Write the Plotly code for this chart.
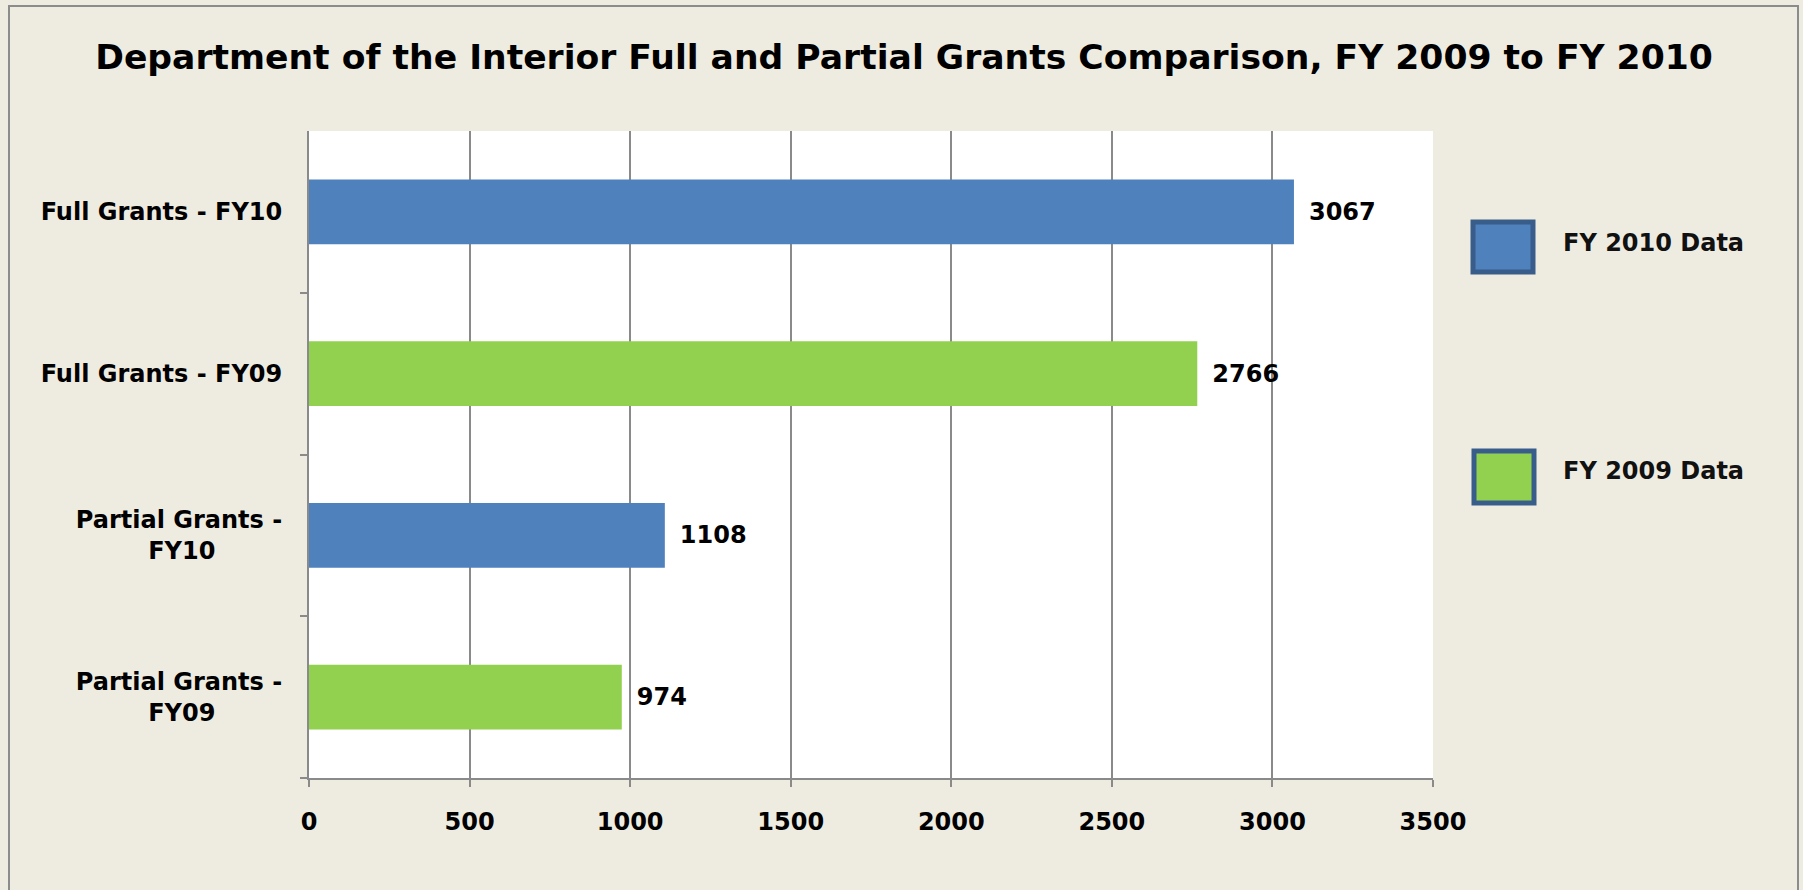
import plotly.graph_objects as go

# ---- data ----
categories_top_to_bottom = ["Full Grants - FY10", "Full Grants - FY09",
                            "Partial Grants - FY10", "Partial Grants - FY09"]
tick_labels = ["Full Grants - FY10", "Full Grants - FY09",
               "Partial Grants -<br>FY10" + "\u00a0" * 8,
               "Partial Grants -<br>FY09" + "\u00a0" * 8]
fy10_categories = ["Full Grants - FY10", "Partial Grants - FY10"]
fy10_values = [3067, 1108]
fy09_categories = ["Full Grants - FY09", "Partial Grants - FY09"]
fy09_values = [2766, 974]
series_names = ["FY 2010 Data", "FY 2009 Data"]
x_ticks = [0, 500, 1000, 1500, 2000, 2500, 3000, 3500]

BLUE = "#4F81BD"
GREEN = "#92D050"
BORDER = "#385D8A"
BG = "#EEECE1"
GRID = "#8A8A8A"
FONT = "DejaVu Sans"

W, H = 1803, 890
L, R, T, B = 309, 1433, 131, 778


def px(x):
    return (x - L) / (R - L)


def py(y):
    return (B - y) / (B - T)


fig = go.Figure()
fig.add_trace(go.Bar(
    y=fy10_categories, x=fy10_values, orientation="h", name=series_names[0],
    marker=dict(color=BLUE, line=dict(width=0)), width=0.4,
    text=fy10_values, texttemplate="\u2002%{x}", textposition="outside",
    constraintext="none", cliponaxis=False,
    textfont=dict(family=FONT, size=24, color="black", weight="bold"),
    showlegend=False))
fig.add_trace(go.Bar(
    y=fy09_categories, x=fy09_values, orientation="h", name=series_names[1],
    marker=dict(color=GREEN, line=dict(width=0)), width=0.4,
    text=fy09_values, texttemplate="\u2002%{x}", textposition="outside",
    constraintext="none", cliponaxis=False,
    textfont=dict(family=FONT, size=24, color="black", weight="bold"),
    showlegend=False))

shapes = []
annotations = []
# custom legend
legend_boxes = [(1473, 222, 1533, 272, BLUE, 243), (1474, 451, 1534, 503, GREEN, 471)]
for (x0, y0, x1, y1, col, ty), name in zip(legend_boxes, series_names):
    shapes.append(dict(type="rect", xref="paper", yref="paper",
                       x0=px(x0), x1=px(x1), y0=py(y0), y1=py(y1),
                       fillcolor=col, line=dict(color=BORDER, width=5)))
    annotations.append(dict(xref="paper", yref="paper", x=px(1561), y=py(ty),
                            xanchor="left", yanchor="middle", showarrow=False,
                            text=name,
                            font=dict(family=FONT, size=24, color="#111", weight="bold")))
# outer chart border
shapes.append(dict(type="rect", xref="paper", yref="paper",
                   x0=px(9), x1=px(1798), y0=py(900), y1=py(6),
                   line=dict(color="#8C8C8C", width=2), fillcolor="rgba(0,0,0,0)"))

fig.update_layout(
    width=W, height=H,
    margin=dict(l=L, r=W - R, t=T, b=H - B, autoexpand=False),
    paper_bgcolor=BG, plot_bgcolor="white",
    barmode="overlay",
    title=dict(text="Department of the Interior Full and Partial Grants Comparison, FY 2009 to FY 2010",
               x=904 / W, xanchor="center", y=1 - 57 / H, yanchor="middle",
               font=dict(family=FONT, size=34.6, color="black", weight="bold")),
    xaxis=dict(range=[0, 3500], tickvals=x_ticks, showgrid=True, gridcolor=GRID, gridwidth=1.5,
               showline=True, linecolor=GRID, linewidth=2, ticks="outside", ticklen=7,
               tickcolor=GRID, tickwidth=1.5, zeroline=False, ticklabelstandoff=14,
               tickfont=dict(family=FONT, size=24, color="black", weight="bold"),
               fixedrange=True),
    yaxis=dict(categoryorder="array", categoryarray=categories_top_to_bottom[::-1],
               tickvals=categories_top_to_bottom, ticktext=tick_labels,
               tickson="boundaries", ticks="outside", ticklen=7, tickcolor=GRID, tickwidth=1.5,
               showline=True, linecolor=GRID, linewidth=2, showgrid=False, ticklabelstandoff=20,
               tickfont=dict(family=FONT, size=24, color="black", weight="bold"),
               fixedrange=True),
    shapes=shapes, annotations=annotations,
)

fig.write_html("out.html", config={"displayModeBar": False},
               post_script="document.body.style.margin='0';document.body.style.overflow='hidden';")
